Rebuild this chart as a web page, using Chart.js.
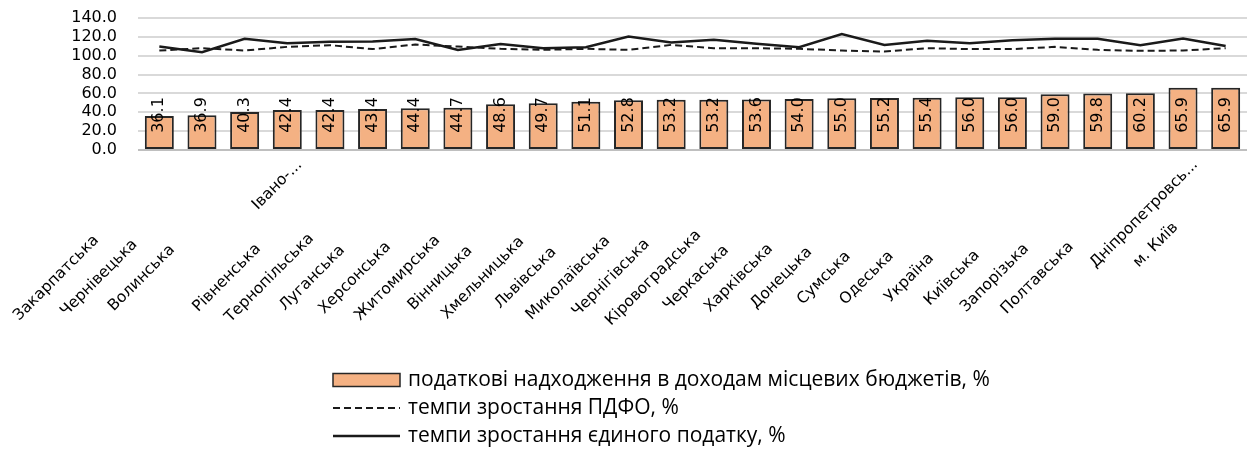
<!DOCTYPE html>
<html>
<head>
<meta charset="utf-8">
<script src="https://cdn.jsdelivr.net/npm/chart.js@4/dist/chart.umd.min.js"></script>
<style>
  html, body { margin: 0; padding: 0; background: #fff; }
  #wrap { width: 1250px; height: 449px; }
</style>
</head>
<body>
<div id="wrap"><canvas id="chart" width="1250" height="449"></canvas></div>
<script>
const regions = [
  'Закарпатська', 'Чернівецька', 'Волинська', 'Івано-...', 'Рівненська',
  'Тернопільська', 'Луганська', 'Херсонська', 'Житомирська', 'Вінницька',
  'Хмельницька', 'Львівська', 'Миколаївська', 'Чернігівська', 'Кіровоградська',
  'Черкаська', 'Харківська', 'Донецька', 'Сумська', 'Одеська', 'Україна',
  'Київська', 'Запорізька', 'Полтавська', 'Дніпропетровсь...', 'м. Київ'
];

// податкові надходження в доходах місцевих бюджетів, %
const taxShare = [
  36.1, 36.9, 40.3, 42.4, 42.4, 43.4, 44.4, 44.7, 48.6, 49.7, 51.1, 52.8, 53.2,
  53.2, 53.6, 54.0, 55.0, 55.2, 55.4, 56.0, 56.0, 59.0, 59.8, 60.2, 65.9, 65.9
];

// темпи зростання ПДФО, %
const pdfoGrowth = [
  105.5, 108.0, 105.5, 109.4, 111.2, 107.0, 111.9, 109.7, 107.3, 106.2, 107.3,
  106.2, 111.5, 108.0, 108.0, 107.3, 105.5, 104.4, 108.0, 107.0, 107.0, 109.4,
  106.2, 105.2, 105.5, 108.0
];

// темпи зростання єдиного податку, %
const singleTaxGrowth = [
  109.7, 103.8, 118.0, 113.3, 114.7, 115.1, 117.6, 106.2, 112.3, 108.0, 109.1,
  120.4, 114.0, 116.9, 112.6, 109.1, 122.9, 111.5, 115.8, 113.3, 116.5, 117.9,
  117.9, 111.2, 118.3, 110.2
];

const yTicks = { min: 0, max: 140, step: 20 };

const seriesNames = [
  'податкові надходження в доходам місцевих бюджетів, %',
  'темпи зростання ПДФО, %',
  'темпи зростання єдиного податку, %'
];

// Excel-like placement of the rotated category labels and value labels
const excelLabels = {
  id: 'excelLabels',
  afterDatasetsDraw(chart) {
    const { ctx, scales: { x, y } } = chart;
    const base = y.getPixelForValue(0);
    ctx.save();
    ctx.fillStyle = '#000';
    ctx.textAlign = 'center';
    ctx.textBaseline = 'middle';

    // values inside the bars, rotated
    ctx.font = '16px "DejaVu Sans"';
    chart.getDatasetMeta(0).data.forEach((bar, i) => {
      ctx.save();
      ctx.translate(bar.x, base - 35);
      ctx.rotate(-Math.PI / 2);
      ctx.fillText(taxShare[i].toFixed(1), 0, 0);
      ctx.restore();
    });

    // category labels at 45 degrees
    const shiftAlong = { 'Івано-...': 93, 'Дніпропетровсь...': 64, 'м. Київ': 33 };
    ctx.font = '15.5px "DejaVu Sans"';
    regions.forEach((name, i) => {
      const s = shiftAlong[name] || 0;
      const cx = x.getPixelForTick(i) - 103 + s;
      const cy = base + 128 - s;
      ctx.save();
      ctx.translate(cx, cy);
      ctx.rotate(-Math.PI / 4);
      ctx.fillText(name, 0, 0);
      ctx.restore();
    });
    ctx.restore();
  },
  afterDraw(chart) {
    // legend, one item per row
    const { ctx } = chart;
    const ds = chart.data.datasets;
    const left = 333, sw = 67, textX = 408;
    const rows = [380, 408, 436];
    ctx.save();
    ctx.font = '21px "Open Sans"';
    ctx.textAlign = 'left';
    ctx.textBaseline = 'middle';
    ctx.fillStyle = '#000';
    ds.forEach((d, i) => {
      const yy = rows[i];
      if (d.type === 'bar') {
        ctx.fillStyle = d.backgroundColor;
        ctx.fillRect(left, yy - 6.5, sw, 13);
        ctx.strokeStyle = d.borderColor;
        ctx.lineWidth = 1.5;
        ctx.strokeRect(left, yy - 6.5, sw, 13);
      } else {
        ctx.strokeStyle = d.borderColor;
        ctx.lineWidth = d.borderWidth;
        ctx.setLineDash(d.borderDash || []);
        ctx.beginPath();
        ctx.moveTo(left, yy);
        ctx.lineTo(left + sw, yy);
        ctx.stroke();
        ctx.setLineDash([]);
      }
      ctx.fillStyle = '#000';
      ctx.fillText(d.label, textX, yy);
    });
    ctx.restore();
  }
};

new Chart(document.getElementById('chart'), {
  data: {
    labels: regions,
    datasets: [
      {
        type: 'bar',
        label: seriesNames[0],
        data: taxShare,
        backgroundColor: '#F4B183',
        borderColor: '#262626',
        borderWidth: 2,
        borderSkipped: false,
        barPercentage: 0.68,
        categoryPercentage: 1,
        order: 3
      },
      {
        type: 'line',
        label: seriesNames[1],
        data: pdfoGrowth,
        borderColor: '#1a1a1a',
        borderWidth: 2,
        borderDash: [7, 4],
        pointRadius: 0,
        tension: 0,
        order: 2
      },
      {
        type: 'line',
        label: seriesNames[2],
        data: singleTaxGrowth,
        borderColor: '#1a1a1a',
        borderWidth: 2.5,
        pointRadius: 0,
        tension: 0,
        order: 1
      }
    ]
  },
  options: {
    responsive: false,
    animation: false,
    layout: { padding: { top: 18, bottom: 299, left: 0, right: 3 } },
    plugins: {
      legend: { display: false },
      tooltip: { enabled: false }
    },
    scales: {
      x: {
        grid: { display: false },
        border: { display: false },
        ticks: { display: false },
        afterFit: s => { s.height = 0; s.paddingLeft = 0; s.paddingRight = 0; }
      },
      y: {
        min: yTicks.min,
        max: yTicks.max,
        border: { display: false },
        grid: {
          drawTicks: false,
          lineWidth: 2,
          color: c => (c.tick && c.tick.value === 0 ? '#bfbfbf' : '#d9d9d9')
        },
        ticks: {
          stepSize: yTicks.step,
          autoSkip: false,
          padding: 21,
          color: '#000',
          font: { family: 'DejaVu Sans', size: 16, lineHeight: 1 },
          callback: v => v.toFixed(1)
        },
        afterFit: s => { s.width = 138; s.paddingTop = 0; s.paddingBottom = 0; }
      }
    }
  },
  plugins: [excelLabels]
});
</script>
</body>
</html>
